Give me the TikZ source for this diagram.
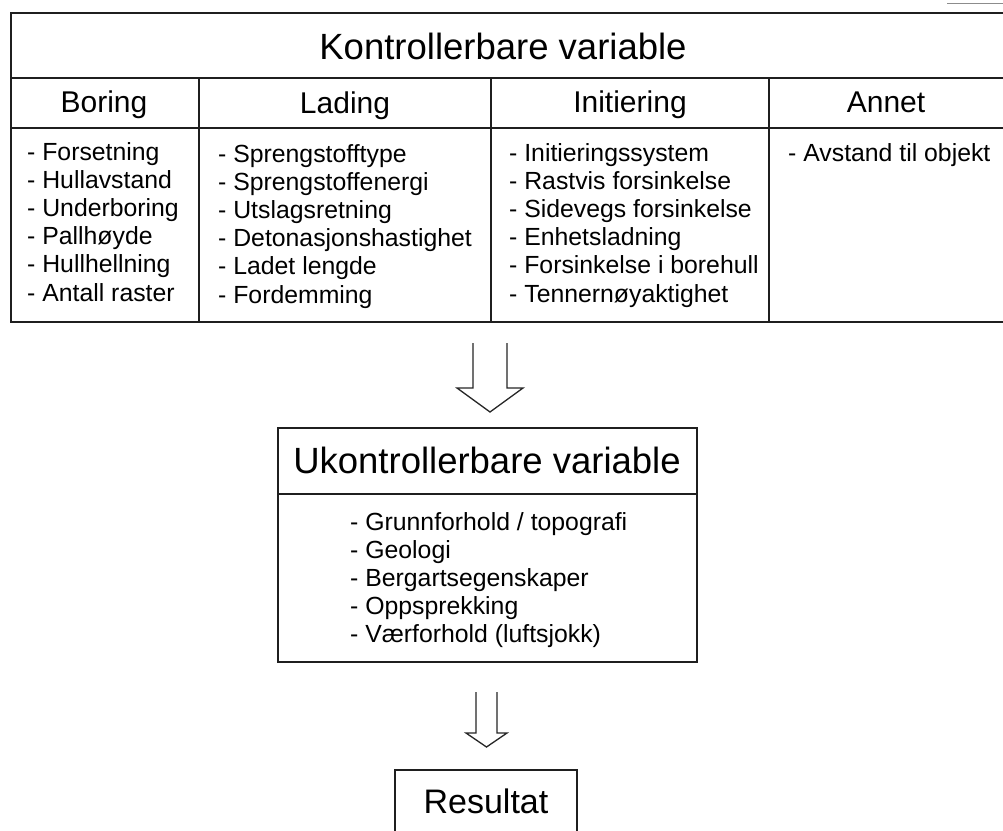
\documentclass[tikz,border=0pt]{standalone}
\usepackage{fontspec}
\setmainfont{Liberation Sans}
\begin{document}
\begin{tikzpicture}[x=1pt,y=-1pt,
  frame/.style={line width=1.6pt, draw=black!88},
  blockarrow/.style={line width=1.3pt, draw=black!85, line join=miter},
  ttl/.style={font=\fontsize{36.5}{40}\selectfont, anchor=base, inner sep=0pt},
  hdr/.style={font=\fontsize{30}{34}\selectfont, anchor=base, inner sep=0pt},
  lst/.style={font=\fontsize{24.8}{28.2}\selectfont, anchor=north west, align=left, inner sep=0pt},
  res/.style={font=\fontsize{34}{38}\selectfont, anchor=base, inner sep=0pt}]
\useasboundingbox (0,0) rectangle (1003,830);
\clip (0,0) rectangle (1003,830);
\fill[white] (0,0) rectangle (1003,830);
% scan artifact at top right
\draw[line width=1pt, black!45] (947,3) -- (1003,3);
% top table
\draw[frame] (1010,13) -- (11,13) -- (11,322) -- (1010,322);
\draw[frame] (11,78) -- (1010,78);
\draw[frame] (11,128) -- (1010,128);
\draw[frame] (199,78) -- (199,322);
\draw[frame] (491,78) -- (491,322);
\draw[frame] (769,78) -- (769,322);
\node[ttl] (kv) at (503,59) {Kontrollerbare variable};
\node[hdr] (hboring) at (104,112) {Boring};
\node[hdr] (hlading) at (345,113) {Lading};
\node[hdr] (hinit) at (630,112) {Initiering};
\node[hdr] (hannet) at (886,112) {Annet};
\node[lst] (lboring) at (27,142) {- Forsetning\\- Hullavstand\\- Underboring\\- Pallhøyde\\- Hullhellning\\- Antall raster};
\node[lst] (llading) at (218,144) {- Sprengstofftype\\- Sprengstoffenergi\\- Utslagsretning\\- Detonasjonshastighet\\- Ladet lengde\\- Fordemming};
\node[lst] (linit) at (509,143) {- Initieringssystem\\- Rastvis forsinkelse\\- Sidevegs forsinkelse\\- Enhetsladning\\- Forsinkelse i borehull\\- Tennernøyaktighet};
\node[lst] (lannet) at (788,143) {- Avstand til objekt};
% arrow 1
\coordinate (a1l) at (473,343);
\coordinate (a1r) at (507,343);
\draw[blockarrow] (a1l) -- (473,388) -- (457,388) -- (490,412) -- (523,388) -- (507,388) -- (a1r);
% middle box
\draw[frame] (278,428) rectangle (697,662);
\draw[frame] (278,494) -- (697,494);
\node[ttl] (uv) at (487,473) {Ukontrollerbare variable};
\node[lst] (luv) at (350,512) {- Grunnforhold / topografi\\- Geologi\\- Bergartsegenskaper\\- Oppsprekking\\- Værforhold (luftsjokk)};
% arrow 2
\coordinate (a2l) at (476,692);
\coordinate (a2r) at (497,692);
\draw[blockarrow] (a2l) -- (476,733) -- (466,733) -- (486.5,747) -- (507,733) -- (497,733) -- (a2r);
% result box
\draw[frame] (395,840) -- (395,770) -- (577,770) -- (577,840);
\node[res] (result) at (486,813) {Resultat};
\end{tikzpicture}
\end{document}
